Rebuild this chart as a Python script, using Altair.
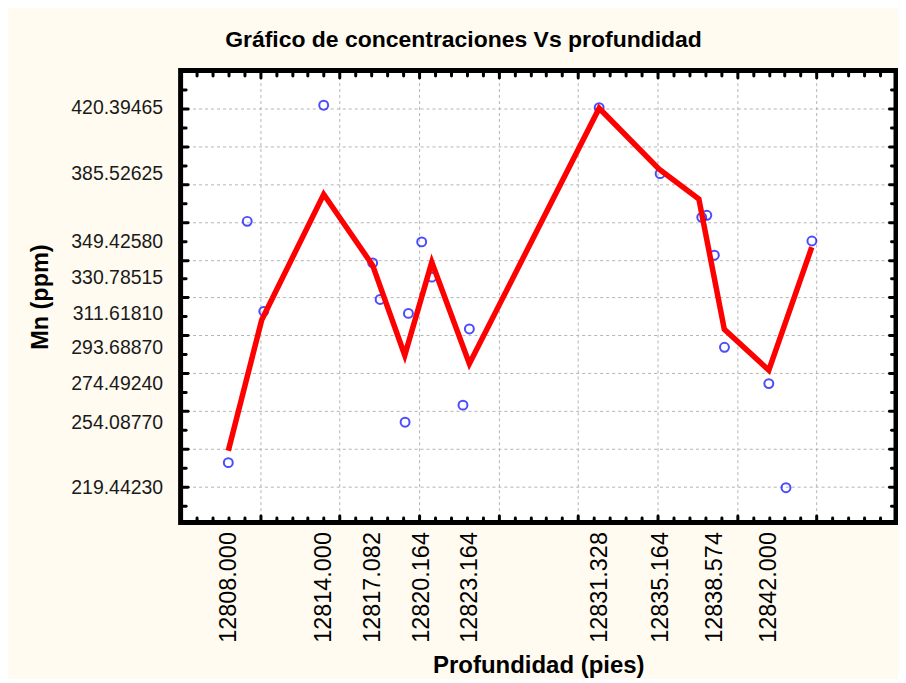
import altair as alt
import pandas as pd

# ---- data ----
depth = [12808.000, 12809.19, 12810.23, 12814.000, 12817.082, 12817.55, 12819.12,
         12819.33, 12820.164, 12820.80, 12822.76, 12823.164, 12831.328, 12835.164,
         12837.78, 12838.10, 12838.574, 12839.21, 12842.000, 12843.08, 12844.71]
mn = [232.7, 360.3, 312.7, 421.7, 338.3, 319.0, 254.0877,
      311.6181, 349.4258, 330.78515, 263.1, 303.4, 420.39465, 385.52625,
      362.4, 363.5, 342.4, 293.6887, 274.4924, 219.4423, 349.9]

smooth_depth = [12808.0, 12810.1, 12814.0, 12817.082, 12819.1, 12820.8, 12823.164,
                12831.328, 12835.1, 12837.6, 12839.2, 12842.0, 12844.7]
smooth_mn = [239.0, 308.1, 374.6, 337.0, 289.5, 338.7, 285.0,
             420.1, 387.9, 372.1, 303.2, 281.6, 346.6]

x_label_values = [12808.000, 12814.000, 12817.082, 12820.164, 12823.164,
                  12831.328, 12835.164, 12838.574, 12842.000]
y_label_values = [420.39465, 385.52625, 349.42580, 330.78515, 311.61810,
                  293.68870, 274.49240, 254.08770, 219.44230]

x_domain = [12805, 12850]
y_domain = [201, 440]
x_grid = list(range(12810, 12850, 5))
y_grid = list(range(220, 440, 20))
x_minor = list(range(12806, 12850, 1))
y_minor = list(range(210, 440, 10))

W, H = 717, 453
FONT = "Liberation Sans"

pts_df = pd.DataFrame({"depth": depth, "mn": mn})
line_df = pd.DataFrame({"depth": smooth_depth, "mn": smooth_mn})

xs = alt.Scale(domain=x_domain, nice=False, zero=False)
ys = alt.Scale(domain=y_domain, nice=False, zero=False)

# axis with the labels
x_lab = alt.Axis(orient="bottom", values=x_label_values, format=".3f", labelAngle=270,
                 labelFont=FONT, labelFontSize=23.5, labelColor="black", labelPadding=9,
                 ticks=False, tickSize=0, domain=False, grid=False, labelOverlap=False,
                 labelFlush=False, title="Profundidad (pies)", titleFont=FONT,
                 titleFontSize=24, titleFontWeight="bold", titleColor="black",
                 titlePadding=11)
y_lab = alt.Axis(orient="left", values=y_label_values, format=".5f",
                 labelFont=FONT, labelFontSize=19.5, labelColor="#1a1a1a", labelPadding=18,
                 ticks=False, tickSize=0, domain=False, grid=False, labelOverlap=False,
                 labelFlush=False, title="Mn (ppm)", titleFont=FONT, titleFontSize=23.5,
                 titleFontWeight="bold", titleColor="black", titlePadding=18)

# grid axes
x_gr = alt.Axis(orient="bottom", values=x_grid, grid=True, gridColor="#b4b4b4",
                gridDash=[3, 3], gridWidth=1, labels=False, ticks=False, tickSize=0,
                domain=False, title=None)
y_gr = alt.Axis(orient="left", values=y_grid, grid=True, gridColor="#b4b4b4",
                gridDash=[3, 3], gridWidth=1, labels=False, ticks=False, tickSize=0,
                domain=False, title=None)

x_size = {"condition": {"test": "datum.value % 5 === 0", "value": 7}, "value": 5}
y_size = {"condition": {"test": "datum.value % 20 === 0", "value": 7}, "value": 5}

def tick_axis(orient, values, offset, size):
    return alt.Axis(orient=orient, values=values, offset=offset, ticks=True,
                    tickSize=size, tickWidth=3, tickColor="black", tickCap="round",
                    labels=False, domain=False, grid=False, title=None)

points = alt.Chart(pts_df).mark_point(
    shape="circle", filled=False, color="#0000FF", size=80, strokeWidth=2
).encode(
    x=alt.X("depth:Q", scale=xs, axis=x_lab),
    y=alt.Y("mn:Q", scale=ys, axis=y_lab),
)

line = alt.Chart(line_df).mark_line(
    color="#FF0000", strokeWidth=5.5, strokeJoin="miter"
).encode(
    x=alt.X("depth:Q", scale=xs, axis=x_gr),
    y=alt.Y("mn:Q", scale=ys, axis=y_gr),
)

ticks_a = alt.Chart(pts_df).mark_point(opacity=0).encode(
    x=alt.X("depth:Q", scale=xs, axis=tick_axis("top", x_minor, -H, x_size)),
    y=alt.Y("mn:Q", scale=ys, axis=tick_axis("right", y_minor, -W, y_size)),
)
ticks_b = alt.Chart(pts_df).mark_point(opacity=0).encode(
    x=alt.X("depth:Q", scale=xs, axis=tick_axis("bottom", x_minor, -H, x_size)),
    y=alt.Y("mn:Q", scale=ys, axis=tick_axis("left", y_minor, -W, y_size)),
)

chart = alt.layer(points, line, ticks_a, ticks_b).resolve_axis(
    x="independent", y="independent"
).properties(
    width=W, height=H,
    background="#FFFBF0",
    padding={"left": 20, "top": 20, "right": 0, "bottom": 0},
    title=alt.TitleParams(text="Gráfico de concentraciones Vs profundidad", font=FONT,
                          fontSize=23, fontWeight="bold", color="black",
                          anchor="middle", dx=-75, offset=17),
).configure_view(stroke="black", strokeWidth=5, fill="white")

chart.save("out.html", embed_options={"renderer": "svg", "actions": False})
